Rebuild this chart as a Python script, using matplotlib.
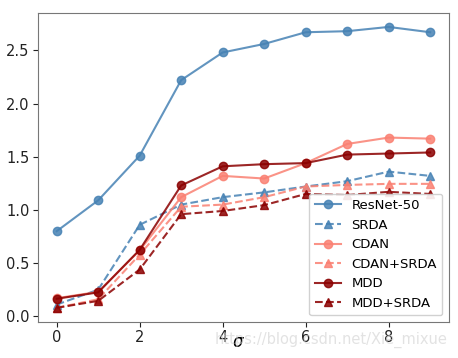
import matplotlib
matplotlib.use("Agg")
import matplotlib.pyplot as plt

# sigma values
sigma = [0, 1, 2, 3, 4, 5, 6, 7, 8, 9]

resnet50 = [0.80, 1.09, 1.51, 2.22, 2.48, 2.56, 2.67, 2.68, 2.72, 2.67]
srda = [0.11, 0.25, 0.86, 1.05, 1.12, 1.165, 1.22, 1.27, 1.36, 1.32]
cdan = [0.17, 0.23, 0.62, 1.12, 1.32, 1.295, 1.44, 1.62, 1.68, 1.67]
cdan_srda = [0.08, 0.16, 0.58, 1.03, 1.05, 1.12, 1.22, 1.235, 1.245, 1.245]
mdd = [0.165, 0.225, 0.625, 1.23, 1.41, 1.43, 1.44, 1.52, 1.53, 1.54]
mdd_srda = [0.08, 0.145, 0.44, 0.96, 0.99, 1.045, 1.15, 1.14, 1.17, 1.15]

blue = "#4682b4"
salmon = "#fa8072"
dark = "#8b0000"

fig = plt.figure(figsize=(4.58, 3.58), dpi=100)
ax = fig.add_axes([0.083, 0.101, 0.897, 0.863])

ax.plot(sigma, resnet50, "-o", color=blue, lw=1.5, ms=6, alpha=0.85, label="ResNet-50")
ax.plot(sigma, srda, "--^", color=blue, lw=1.5, ms=6, alpha=0.85, label="SRDA")
ax.plot(sigma, cdan, "-o", color=salmon, lw=1.5, ms=6, alpha=0.85, label="CDAN")
ax.plot(sigma, cdan_srda, "--^", color=salmon, lw=1.5, ms=6, alpha=0.85, label="CDAN+SRDA")
ax.plot(sigma, mdd, "-o", color=dark, lw=1.5, ms=6, alpha=0.85, label="MDD")
ax.plot(sigma, mdd_srda, "--^", color=dark, lw=1.5, ms=6, alpha=0.85, label="MDD+SRDA")

ax.set_xticks([0, 2, 4, 6, 8])
ax.set_yticks([0.0, 0.5, 1.0, 1.5, 2.0, 2.5])
ax.tick_params(labelsize=10.5, colors="#222222", pad=2.5)
for s in ax.spines.values():
    s.set_color("#777777")

# sigma label sits just under the tick labels
fig.text(0.52, 0.045, r"$\sigma$", fontsize=12, ha="center", va="center")

ax.legend(loc="lower right", fontsize=9.5, framealpha=0.9)

# watermark of the source image
fig.text(0.977, 0.05, "https://blog.csdn.net/Xie_mixue", ha="right", va="center",
         fontsize=10.5, color="#d0d0d0", alpha=0.6)

fig.savefig("out.png", dpi=100)
plt.close(fig)
